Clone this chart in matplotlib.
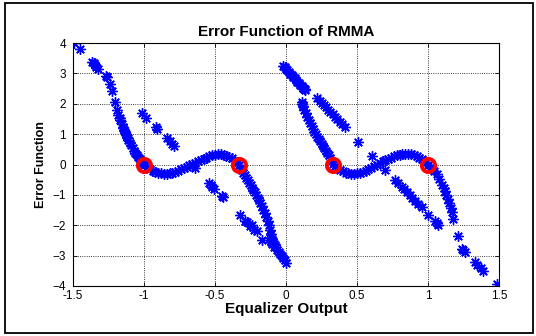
import matplotlib
matplotlib.use("Agg")
import matplotlib.pyplot as plt
from matplotlib.patches import Rectangle

plt.rcParams['font.family'] = ['Liberation Sans', 'DejaVu Sans']

# ---- data ----
# left sparse tail + dense branch (x<0)
left_main_x = [-1.495, -1.45, -1.366, -1.355, -1.345, -1.335, -1.325, -1.265, -1.26, -1.237,
               -1.226, -1.206, -1.19, -1.18, -1.172, -1.168, -1.155, -1.148,
               -1.145, -1.14, -1.135, -1.13, -1.125, -1.12, -1.115, -1.11, -1.10, -1.09,
               -1.08, -1.07, -1.06, -1.05, -1.04, -1.03, -1.02, -1.01, -1.0, -0.98, -0.96,
               -0.94, -0.92, -0.90, -0.88, -0.86, -0.84, -0.82, -0.80, -0.78, -0.76, -0.74,
               -0.72, -0.70, -0.68, -0.66, -0.64, -0.62, -0.60, -0.58, -0.56, -0.54, -0.52,
               -0.50, -0.48, -0.46, -0.44, -0.42, -0.40, -0.38, -0.36, -0.345, -0.333,
               -0.32, -0.31, -0.30, -0.29, -0.28, -0.27, -0.26, -0.25, -0.24, -0.23, -0.22,
               -0.21, -0.20, -0.19, -0.18, -0.17, -0.16, -0.15, -0.14, -0.13, -0.12,
               -0.113, -0.105, -0.10, -0.095, -0.09, -0.08, -0.07, -0.06, -0.05, -0.04,
               -0.03, -0.02, -0.01, 0.0]
left_main_y = [4.0, 3.81, 3.39, 3.33, 3.27, 3.20, 3.15, 2.92, 2.88, 2.66,
               2.41, 2.06, 1.80, 1.62, 1.52, 1.47, 1.32, 1.24,
               1.20, 1.14, 1.08, 1.02, 0.96, 0.91, 0.86, 0.81, 0.72, 0.63,
               0.54, 0.46, 0.38, 0.31, 0.24, 0.17, 0.11, 0.05, 0.0, -0.08, -0.15,
               -0.20, -0.24, -0.27, -0.29, -0.30, -0.30, -0.29, -0.27, -0.24, -0.20, -0.16,
               -0.11, -0.07, -0.03, 0.01, 0.05, 0.10, 0.14, 0.19, 0.23, 0.27, 0.30,
               0.32, 0.33, 0.33, 0.32, 0.29, 0.25, 0.20, 0.13, 0.07, 0.0,
               -0.10, -0.18, -0.27, -0.36, -0.44, -0.52, -0.60, -0.68, -0.76, -0.84, -0.92,
               -1.00, -1.09, -1.18, -1.28, -1.38, -1.49, -1.60, -1.72, -1.85, -2.00,
               -2.15, -2.30, -2.45, -2.52, -2.58, -2.66, -2.73, -2.80, -2.87, -2.94,
               -3.01, -3.08, -3.15, -3.23]

# right dense branch + sparse tail (x>0)
right_main_x = [-0.02, -0.01, 0.0, 0.01, 0.02, 0.03, 0.04, 0.05, 0.06, 0.07, 0.08, 0.09,
                0.10, 0.11, 0.12, 0.128, 0.135,
                0.11, 0.115, 0.12, 0.13, 0.14, 0.15, 0.16, 0.17, 0.18, 0.19, 0.20, 0.21,
                0.22, 0.23, 0.24, 0.25, 0.26, 0.27, 0.28, 0.29, 0.30, 0.31, 0.32, 0.333,
                0.345, 0.36, 0.38, 0.40, 0.42, 0.44, 0.46, 0.48, 0.50, 0.52, 0.54, 0.56,
                0.58, 0.60, 0.62, 0.64, 0.66, 0.68, 0.70, 0.72, 0.74, 0.76, 0.78, 0.80,
                0.82, 0.84, 0.86, 0.88, 0.90, 0.92, 0.94, 0.96, 0.98, 1.00, 1.02, 1.04,
                1.06, 1.08, 1.10, 1.11, 1.12, 1.13, 1.14, 1.15, 1.16, 1.17,
                1.178, 1.214, 1.237, 1.245, 1.26, 1.331, 1.345, 1.37, 1.39, 1.484]
right_main_y = [3.25, 3.20, 3.15, 3.10, 3.05, 2.99, 2.94, 2.89, 2.84, 2.78, 2.73, 2.68,
                2.62, 2.57, 2.52, 2.48, 2.44,
                2.05, 1.98, 1.92, 1.80, 1.68, 1.57, 1.46, 1.36, 1.26, 1.17, 1.08, 1.00,
                0.92, 0.84, 0.77, 0.69, 0.62, 0.54, 0.46, 0.38, 0.30, 0.22, 0.13, 0.03,
                -0.04, -0.11, -0.18, -0.23, -0.27, -0.29, -0.30, -0.30, -0.29, -0.27, -0.24, -0.20,
                -0.15, -0.10, -0.05, 0.0, 0.05, 0.10, 0.15, 0.19, 0.23, 0.27, 0.30, 0.32,
                0.34, 0.35, 0.35, 0.34, 0.32, 0.28, 0.23, 0.17, 0.09, 0.0, -0.10, -0.20,
                -0.30, -0.48, -0.68, -0.78, -0.88, -1.00, -1.12, -1.27, -1.42, -1.55,
                -1.79, -2.34, -2.78, -2.83, -2.89, -3.22, -3.30, -3.41, -3.52, -3.93]

# scattered samples off the main branches
scatter_x = [-1.014, -0.984, -0.913, -0.905, -0.838, -0.82, -0.803, -0.791,
             -0.638, -0.545, -0.53, -0.521, -0.505, -0.451, -0.445,
             -0.322, -0.286, -0.277, -0.251, -0.242, -0.228, -0.206,
             -0.169, -0.11, -0.106, -0.10, -0.087,
             0.12, 0.135, 0.216, 0.24, 0.25, 0.265, 0.28, 0.298, 0.31, 0.33, 0.345,
             0.36, 0.38, 0.395, 0.415,
             0.509, 0.603, 0.697, 0.768, 0.79, 0.815, 0.83, 0.85, 0.87, 0.89, 0.908,
             0.93, 0.955, 1.002, 1.05, 1.06, 1.073]
scatter_y = [1.69, 1.54, 1.22, 1.18, 0.86, 0.78, 0.69, 0.62,
             -0.13, -0.60, -0.68, -0.74, -0.82, -1.04, -1.08,
             -1.67, -1.87, -1.88, -2.03, -2.00, -2.14, -2.18,
             -2.47, -2.41, -2.55, -2.61, -2.71,
             2.51, 2.50, 2.19, 2.08, 2.03, 1.97, 1.90, 1.80, 1.74, 1.65, 1.57,
             1.50, 1.40, 1.33, 1.23,
             0.75, 0.28, -0.19, -0.50, -0.60, -0.75, -0.82, -0.91, -1.00, -1.10, -1.19,
             -1.30, -1.41, -1.65, -1.87, -1.92, -1.98]

# constellation points (red circles)
const_x = [-1.0, -1/3, 1/3, 1.0]
const_y = [0.0, 0.0, 0.0, 0.0]

xticks = [-1.5, -1, -0.5, 0, 0.5, 1, 1.5]
xticklabels = ['-1.5', '-1', '-0.5', '0', '0.5', '1', '1.5']
yticks = [-4, -3, -2, -1, 0, 1, 2, 3, 4]

# ---- figure ----
fig = plt.figure(figsize=(5.36, 3.36), dpi=100)
fig.patches.append(Rectangle((5/536, 3/336), 528/536, 330/336, transform=fig.transFigure,
                             fill=False, edgecolor='black', linewidth=1.3))
ax = fig.add_axes([73/536, 1-286/336, 426/536, 243/336])

star = dict(linestyle='none', marker=(8, 2, 0), color='#0000ff', markersize=7.5,
            markeredgewidth=1.0)
ax.plot(left_main_x, left_main_y, **star)
ax.plot(right_main_x, right_main_y, **star)
ax.plot(scatter_x, scatter_y, **star)
ax.plot(const_x, const_y, linestyle='none', marker='o', markersize=9.5,
        markerfacecolor='none', markeredgecolor='#ff0000', markeredgewidth=2.8, zorder=5)

ax.set_xlim(-1.5, 1.5)
ax.set_ylim(-4, 4)
ax.set_xticks(xticks)
ax.set_xticklabels(xticklabels)
ax.set_yticks(yticks)
ax.grid(True, linestyle=':', color='black', linewidth=0.6)
ax.tick_params(direction='in', top=True, right=True, length=3, width=0.6,
               labelsize=8.5)
ax.tick_params(axis='x', pad=3)
ax.tick_params(axis='y', pad=5)
for s in ax.spines.values():
    s.set_linewidth(0.8)

ax.set_title('Error Function of RMMA', fontsize=11, fontweight='bold', pad=5)
ax.set_xlabel('Equalizer Output', fontsize=11, fontweight='bold', labelpad=0)
ax.set_ylabel('Error Function', fontsize=9, fontweight='bold', labelpad=4)

fig.savefig('out.png', dpi=100)
